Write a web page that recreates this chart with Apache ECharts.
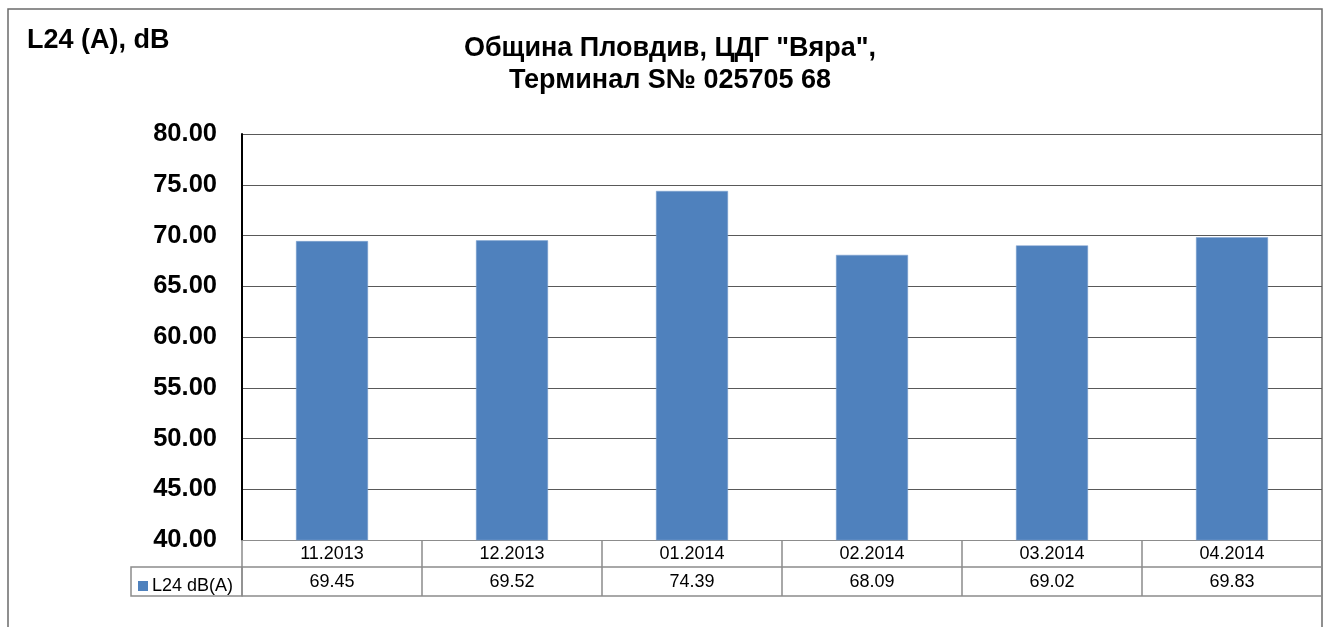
<!DOCTYPE html>
<html>
<head>
<meta charset="utf-8">
<script src="https://cdn.jsdelivr.net/npm/echarts@6/dist/echarts.min.js"></script>
<style>
  html, body { margin: 0; padding: 0; background: #fff; }
  #chart { width: 1324px; height: 627px; }
</style>
</head>
<body>
<div id="chart"></div>
<script>
const categories = ["11.2013", "12.2013", "01.2014", "02.2014", "03.2014", "04.2014"];
const values = [69.45, 69.52, 74.39, 68.09, 69.02, 69.83];
const seriesName = "L24 dB(A)";
const yTicks = { min: 40, max: 80, interval: 5 };

const font = "Arial, 'Liberation Sans', sans-serif";
const tableLine = "#8c8c8c";

const chart = echarts.init(document.getElementById("chart"), null, { renderer: "canvas" });

chart.setOption({
  backgroundColor: "#fff",
  animation: false,
  title: [
    {
      text: 'Община Пловдив, ЦДГ "Вяра",\nТерминал S№ 025705 68',
      left: 665,
      top: 28,
      textAlign: "center",
      textStyle: { fontFamily: font, fontSize: 27, fontWeight: "bold", color: "#000", lineHeight: 32 }
    },
    {
      text: "L24 (A), dB",
      left: 22,
      top: 22,
      textStyle: { fontFamily: font, fontSize: 27, fontWeight: "bold", color: "#000" }
    }
  ],
  legend: {
    left: 133,
    top: 572,
    icon: "rect",
    itemWidth: 10,
    itemHeight: 10,
    itemGap: 4,
    selectedMode: false,
    itemStyle: { borderWidth: 0 },
    textStyle: { fontFamily: font, fontSize: 18, color: "#000", padding: [0, 0, 0, -1] },
    data: [seriesName]
  },
  grid: { left: 242, right: 2, top: 134, bottom: 87 },
  xAxis: [
    {
      type: "category",
      data: categories,
      axisLine: { lineStyle: { color: tableLine, width: 1 } },
      axisTick: { show: true, interval: 0, length: 56, lineStyle: { color: tableLine, width: 1.5 } },
      axisLabel: { fontFamily: font, fontSize: 18, color: "#000", margin: 5 }
    },
    {
      type: "category",
      data: categories,
      position: "bottom",
      offset: 27,
      axisLine: { lineStyle: { color: tableLine, width: 1.5 } },
      axisTick: { show: false },
      axisLabel: {
        fontFamily: font, fontSize: 18, color: "#000", margin: 6,
        formatter: (v, i) => values[i].toFixed(2)
      }
    },
    {
      type: "category",
      data: categories,
      position: "bottom",
      offset: 56,
      axisLine: { lineStyle: { color: tableLine, width: 1.5 } },
      axisTick: { show: false },
      axisLabel: { show: false }
    }
  ],
  yAxis: {
    type: "value",
    min: yTicks.min,
    max: yTicks.max,
    interval: yTicks.interval,
    axisLine: { show: true, lineStyle: { color: "#000", width: 2 } },
    axisTick: { show: false },
    axisLabel: {
      fontFamily: font, fontSize: 25.5, fontWeight: "bold", color: "#000", margin: 25,
      formatter: v => v.toFixed(2)
    },
    splitLine: { lineStyle: { color: "#595959", width: 1 } }
  },
  graphic: [
    {
      type: "rect",
      shape: { x: 8, y: 9, width: 1314, height: 700 },
      style: { fill: "none", stroke: "#6b6b6b", lineWidth: 1.5 },
      silent: true
    },
    {
      type: "rect",
      shape: { x: 131, y: 567, width: 111, height: 29 },
      style: { fill: "none", stroke: tableLine, lineWidth: 1.5 },
      silent: true
    }
  ],
  series: [
    {
      name: seriesName,
      type: "bar",
      data: values,
      barWidth: "40%",
      itemStyle: { color: "#4F81BD", borderColor: "#7fa3d0", borderWidth: 0.5 }
    }
  ]
});
</script>
</body>
</html>
